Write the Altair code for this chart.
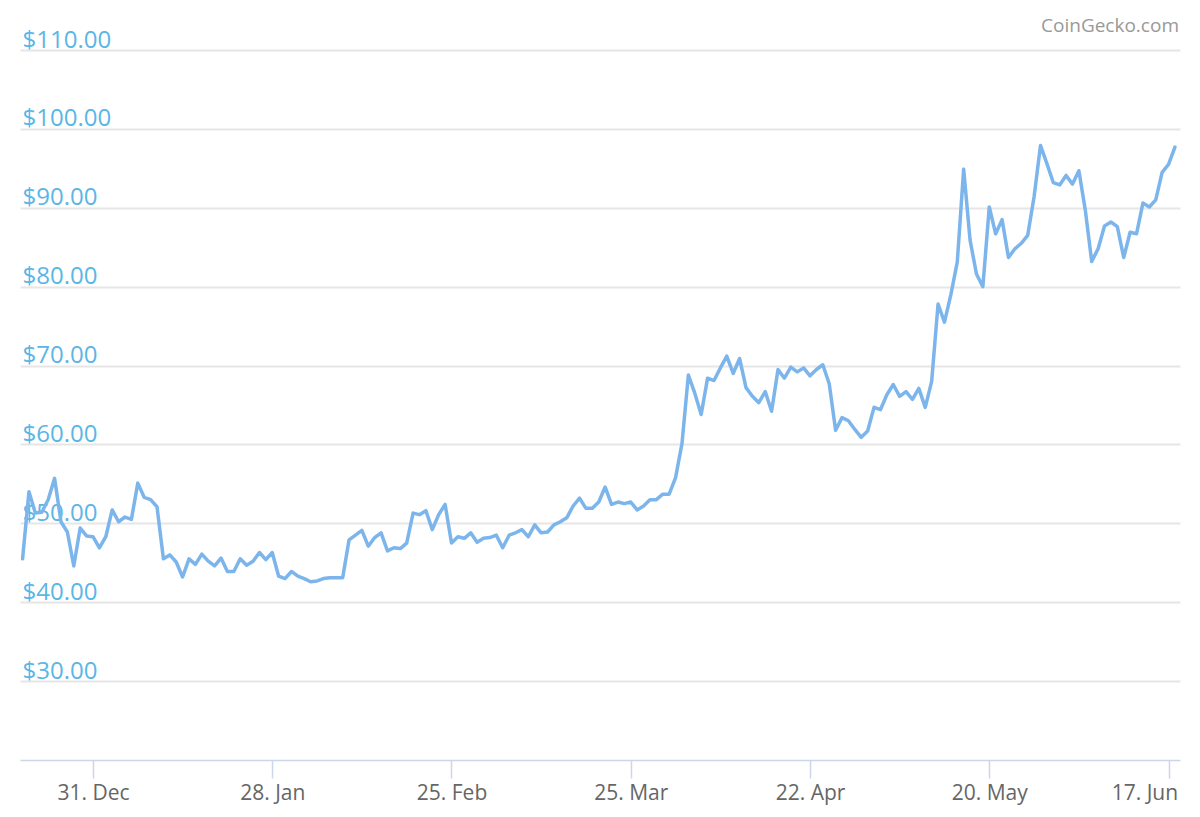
import altair as alt
import pandas as pd

# daily prices from 20 Dec to 18 Jun
start_date = "2018-12-20"
prices = [
    45.5, 54.0, 51.3, 51.4, 53.0, 55.7, 50.2, 48.9, 44.6, 49.4, 48.4,
    48.3, 46.9, 48.3, 51.7, 50.2, 50.8, 50.5, 55.1, 53.3, 53.0, 52.1,
    45.5, 46.0, 45.1, 43.2, 45.5, 44.8, 46.1, 45.2, 44.6, 45.6, 43.9,
    43.9, 45.5, 44.7, 45.2, 46.3, 45.4, 46.3, 43.3, 43.0, 43.9, 43.3,
    43.0, 42.6, 42.7, 43.0, 43.1, 43.1, 43.1, 47.9, 48.5, 49.1, 47.1,
    48.2, 48.8, 46.5, 46.9, 46.8, 47.5, 51.3, 51.1, 51.6, 49.2, 51.1,
    52.4, 47.5, 48.3, 48.1, 48.8, 47.6, 48.1, 48.2, 48.5, 46.9, 48.5,
    48.8, 49.2, 48.3, 49.8, 48.8, 48.9, 49.8, 50.2, 50.7, 52.2, 53.2,
    51.9, 51.9, 52.7, 54.6, 52.4, 52.7, 52.5, 52.7, 51.7, 52.2, 53.0,
    53.0, 53.7, 53.7, 55.8, 60.1, 68.8, 66.5, 63.8, 68.4, 68.1, 69.7,
    71.2, 69.0, 70.9, 67.2, 66.1, 65.3, 66.7, 64.2, 69.5, 68.4, 69.8,
    69.2, 69.7, 68.7, 69.5, 70.1, 67.7, 61.8, 63.4, 63.0, 61.9, 60.9,
    61.7, 64.7, 64.4, 66.3, 67.6, 66.1, 66.7, 65.7, 67.1, 64.7, 68.0,
    77.8, 75.5, 79.0, 83.1, 94.9, 85.9, 81.6, 80.0, 90.1, 86.7, 88.5,
    83.7, 84.8, 85.5, 86.5, 91.4, 97.9, 95.6, 93.2, 92.9, 94.1, 93.0,
    94.7, 89.7, 83.2, 84.8, 87.7, 88.2, 87.6, 83.7, 86.9, 86.7, 90.6,
    90.1, 91.0, 94.5, 95.5, 97.7,
]
tick_dates = ["2018-12-31", "2019-01-28", "2019-02-25", "2019-03-25",
              "2019-04-22", "2019-05-20", "2019-06-17"]
price_ticks = [30, 40, 50, 60, 70, 80, 90, 100, 110]
credit = "CoinGecko.com"

dates = pd.date_range(start_date, periods=len(prices), freq="D")
df = pd.DataFrame({"date": dates.strftime("%Y-%m-%d"), "price": prices})

tick_ms = [int(pd.Timestamp(d).value // 10**6) for d in tick_dates]
x_min = int(pd.Timestamp("2018-12-19 14:24").value // 10**6)
x_max = int(pd.Timestamp("2019-06-18 19:00").value // 10**6)

line = (
    alt.Chart(df)
    .mark_line(color="#7cb5ec", strokeWidth=3.5, strokeJoin="round", strokeCap="round")
    .encode(
        x=alt.X(
            "date:T",
            title=None,
            scale=alt.Scale(type="utc", domain=[x_min, x_max]),
            axis=alt.Axis(
                values=tick_ms,
                labelExpr="utcFormat(datum.value, '%-d. %b')",
                grid=False,
                domainColor="#ccd6eb",
                domainWidth=1.5,
                tickColor="#ccd6eb",
                tickWidth=1.5,
                tickSize=18,
                labelPadding=4,
                labelFont="Open Sans",
                labelFontSize=21,
                labelColor="#666666",
                labelFlush=15,
                labelFlushOffset=9,
                labelOverlap=False,
            ),
        ),
        y=alt.Y(
            "price:Q",
            title=None,
            scale=alt.Scale(domain=[20, 110], nice=False, zero=False),
            axis=alt.Axis(
                values=price_ticks,
                format="$.2f",
                domain=False,
                ticks=False,
                tickSize=0,
                gridColor="#e6e6e6",
                gridWidth=2,
                labelAlign="left",
                labelBaseline="alphabetic",
                labelPadding=-2,
                labelOffset=-3,
                labelFont="Open Sans",
                labelFontSize=24,
                labelColor="#5ab6e6",
                labelOverlap=False,
            ),
        ),
    )
)

credit_text = (
    alt.Chart(pd.DataFrame({"t": [credit]}))
    .mark_text(align="right", baseline="alphabetic", font="Open Sans",
               fontSize=19, color="#999999")
    .encode(text="t:N", x=alt.value(1159), y=alt.value(-18))
)

chart = (
    alt.layer(line, credit_text)
    .properties(
        width=1160,
        height=710,
        autosize=alt.AutoSizeParams(type="none"),
        padding={"left": 12, "top": 42, "right": 12, "bottom": 48},
    )
    .configure_view(strokeWidth=0)
)

chart.save("out.html", embed_options={"renderer": "svg", "actions": False})
